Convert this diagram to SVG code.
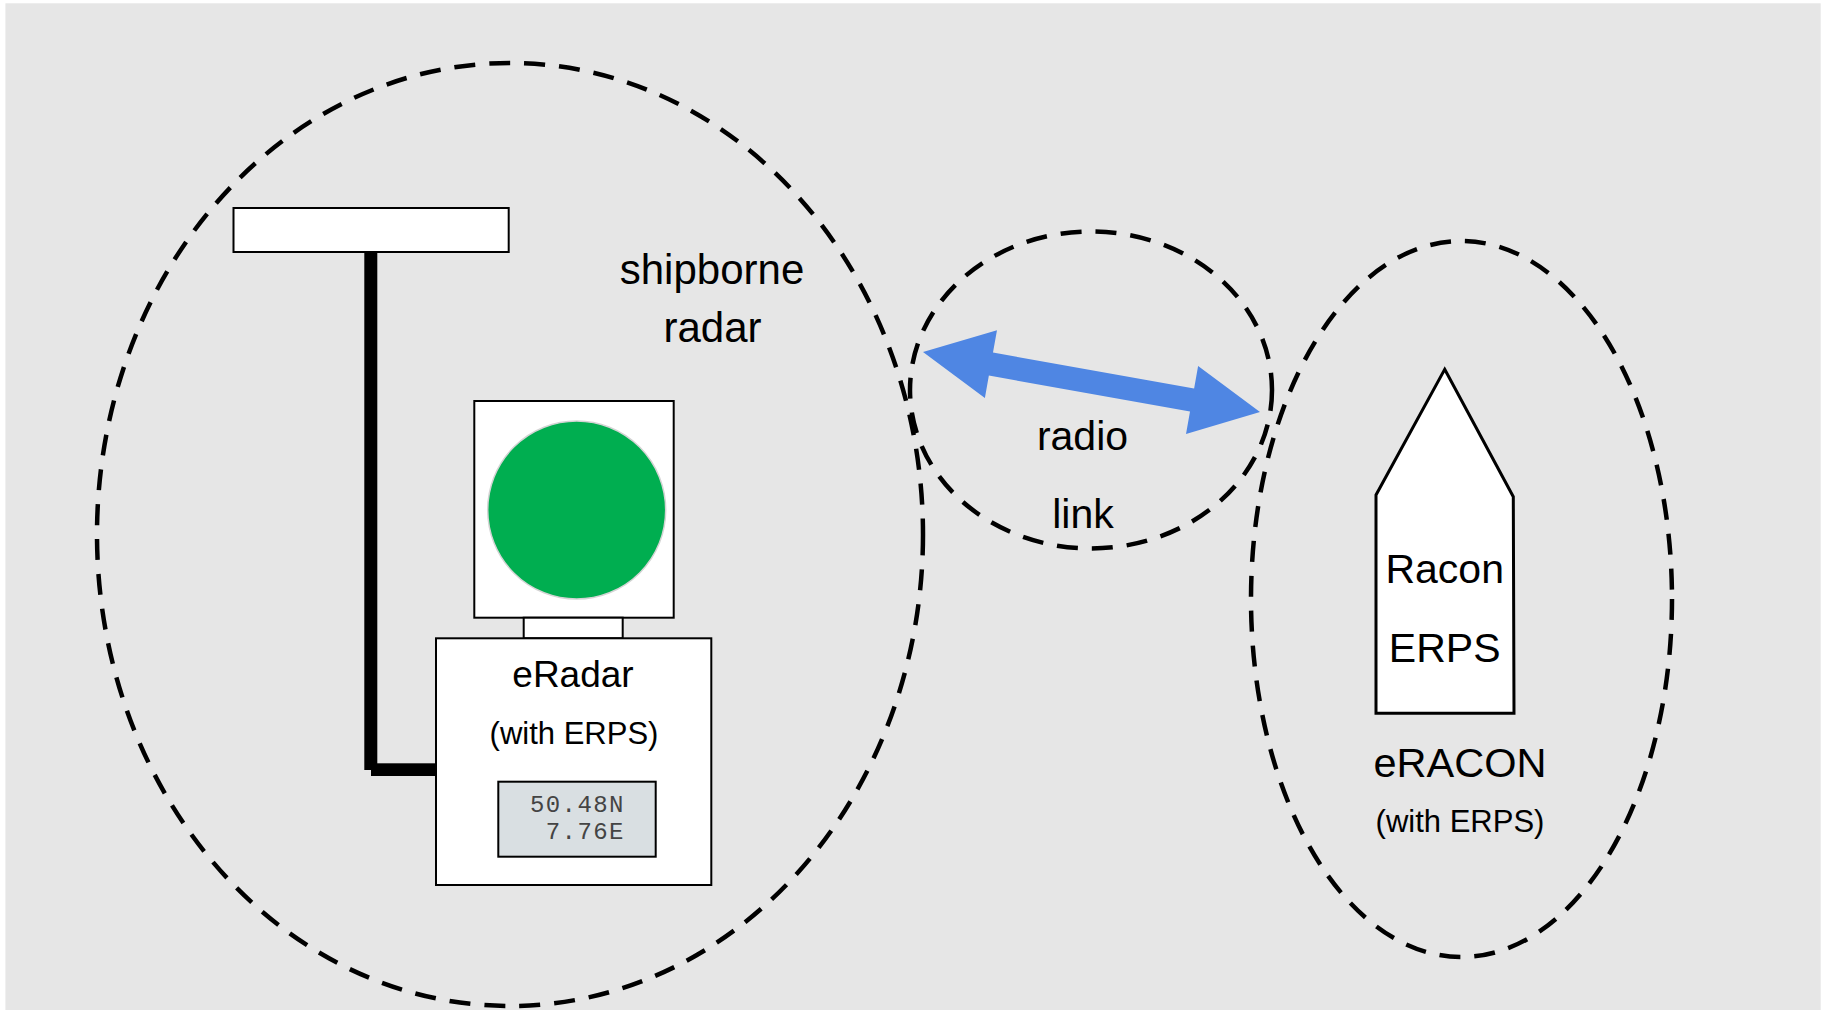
<svg xmlns="http://www.w3.org/2000/svg" width="1825" height="1010" viewBox="0 0 1825 1010">
  <style>
    .t { font-family: "Liberation Sans", Arial, sans-serif; fill: #000; text-anchor: middle; }
    .m { font-family: "Liberation Mono", "Courier New", monospace; fill: #444; font-size: 24px; letter-spacing: 1.4px; }
    .zone { fill: none; stroke: #000; stroke-width: 4.5; stroke-dasharray: 21 14; }
    .box { fill: #fff; stroke: #000; stroke-width: 2; }
  </style>
  <rect x="0" y="0" width="1825" height="1010" fill="#fff"/>
  <rect x="5.4" y="3.3" width="1815.3" height="1006.7" fill="#e6e6e6"/>

  <g id="zones">
    <ellipse id="zone-shipborne" class="zone" cx="510" cy="534.5" rx="413" ry="471.5"/>
    <ellipse id="zone-radio" class="zone" cx="1091" cy="390" rx="181" ry="158.5"/>
    <ellipse id="zone-eracon" class="zone" cx="1461.5" cy="599" rx="210.5" ry="358"/>
  </g>

  <g id="antenna">
    <rect x="233.5" y="208" width="275.2" height="44" class="box"/>
  </g>

  <g id="connectors">
    <rect x="364.3" y="251" width="13" height="519" fill="#000"/>
    <rect x="371" y="763.3" width="65" height="12.7" fill="#000"/>
    <polygon transform="translate(923,352) rotate(10.1)" fill="#4f86e3"
      points="0,0 69,-34.5 69,-11.7 273.3,-11.7 273.3,-34.5 342.3,0 273.3,34.5 273.3,11.7 69,11.7 69,34.5"/>
  </g>

  <g id="display-unit">
    <rect x="474.3" y="401" width="199.4" height="216.7" class="box"/>
    <circle cx="576.7" cy="510" r="89" fill="#00ae50" stroke="#d4d4d4" stroke-width="1.5"/>
    <rect x="523.7" y="617.7" width="99" height="20.6" class="box"/>
  </g>

  <g id="eradar">
    <rect x="436" y="638.3" width="275.3" height="246.7" class="box"/>
    <text class="t" x="573" y="687.3" font-size="37">eRadar</text>
    <text class="t" x="574" y="744" font-size="31">(with ERPS)</text>
    <rect x="498.3" y="781.7" width="157.4" height="75" fill="#d9dfe2" stroke="#000" stroke-width="2"/>
    <text class="m" x="530" y="812">50.48N</text>
    <text class="m" x="530" y="838.5" xml:space="preserve"> 7.76E</text>
  </g>

  <g id="label-shipborne">
    <text class="t" x="712" y="284" font-size="42">shipborne</text>
    <text class="t" x="712.5" y="342" font-size="42">radar</text>
  </g>

  <g id="label-radio">
    <text class="t" x="1082.5" y="450" font-size="41">radio</text>
    <text class="t" x="1083" y="528.3" font-size="41">link</text>
  </g>

  <g id="racon">
    <polygon points="1444.7,369.3 1513.3,496.7 1514,713.3 1376,713.3 1376,495" fill="#fff" stroke="#000" stroke-width="3" stroke-linejoin="miter"/>
    <text class="t" x="1444.7" y="582.7" font-size="41">Racon</text>
    <text class="t" x="1444.7" y="661.7" font-size="41">ERPS</text>
  </g>

  <g id="eracon">
    <text class="t" x="1460" y="777.3" font-size="41.5">eRACON</text>
    <text class="t" x="1460" y="831.7" font-size="31">(with ERPS)</text>
  </g>
</svg>
